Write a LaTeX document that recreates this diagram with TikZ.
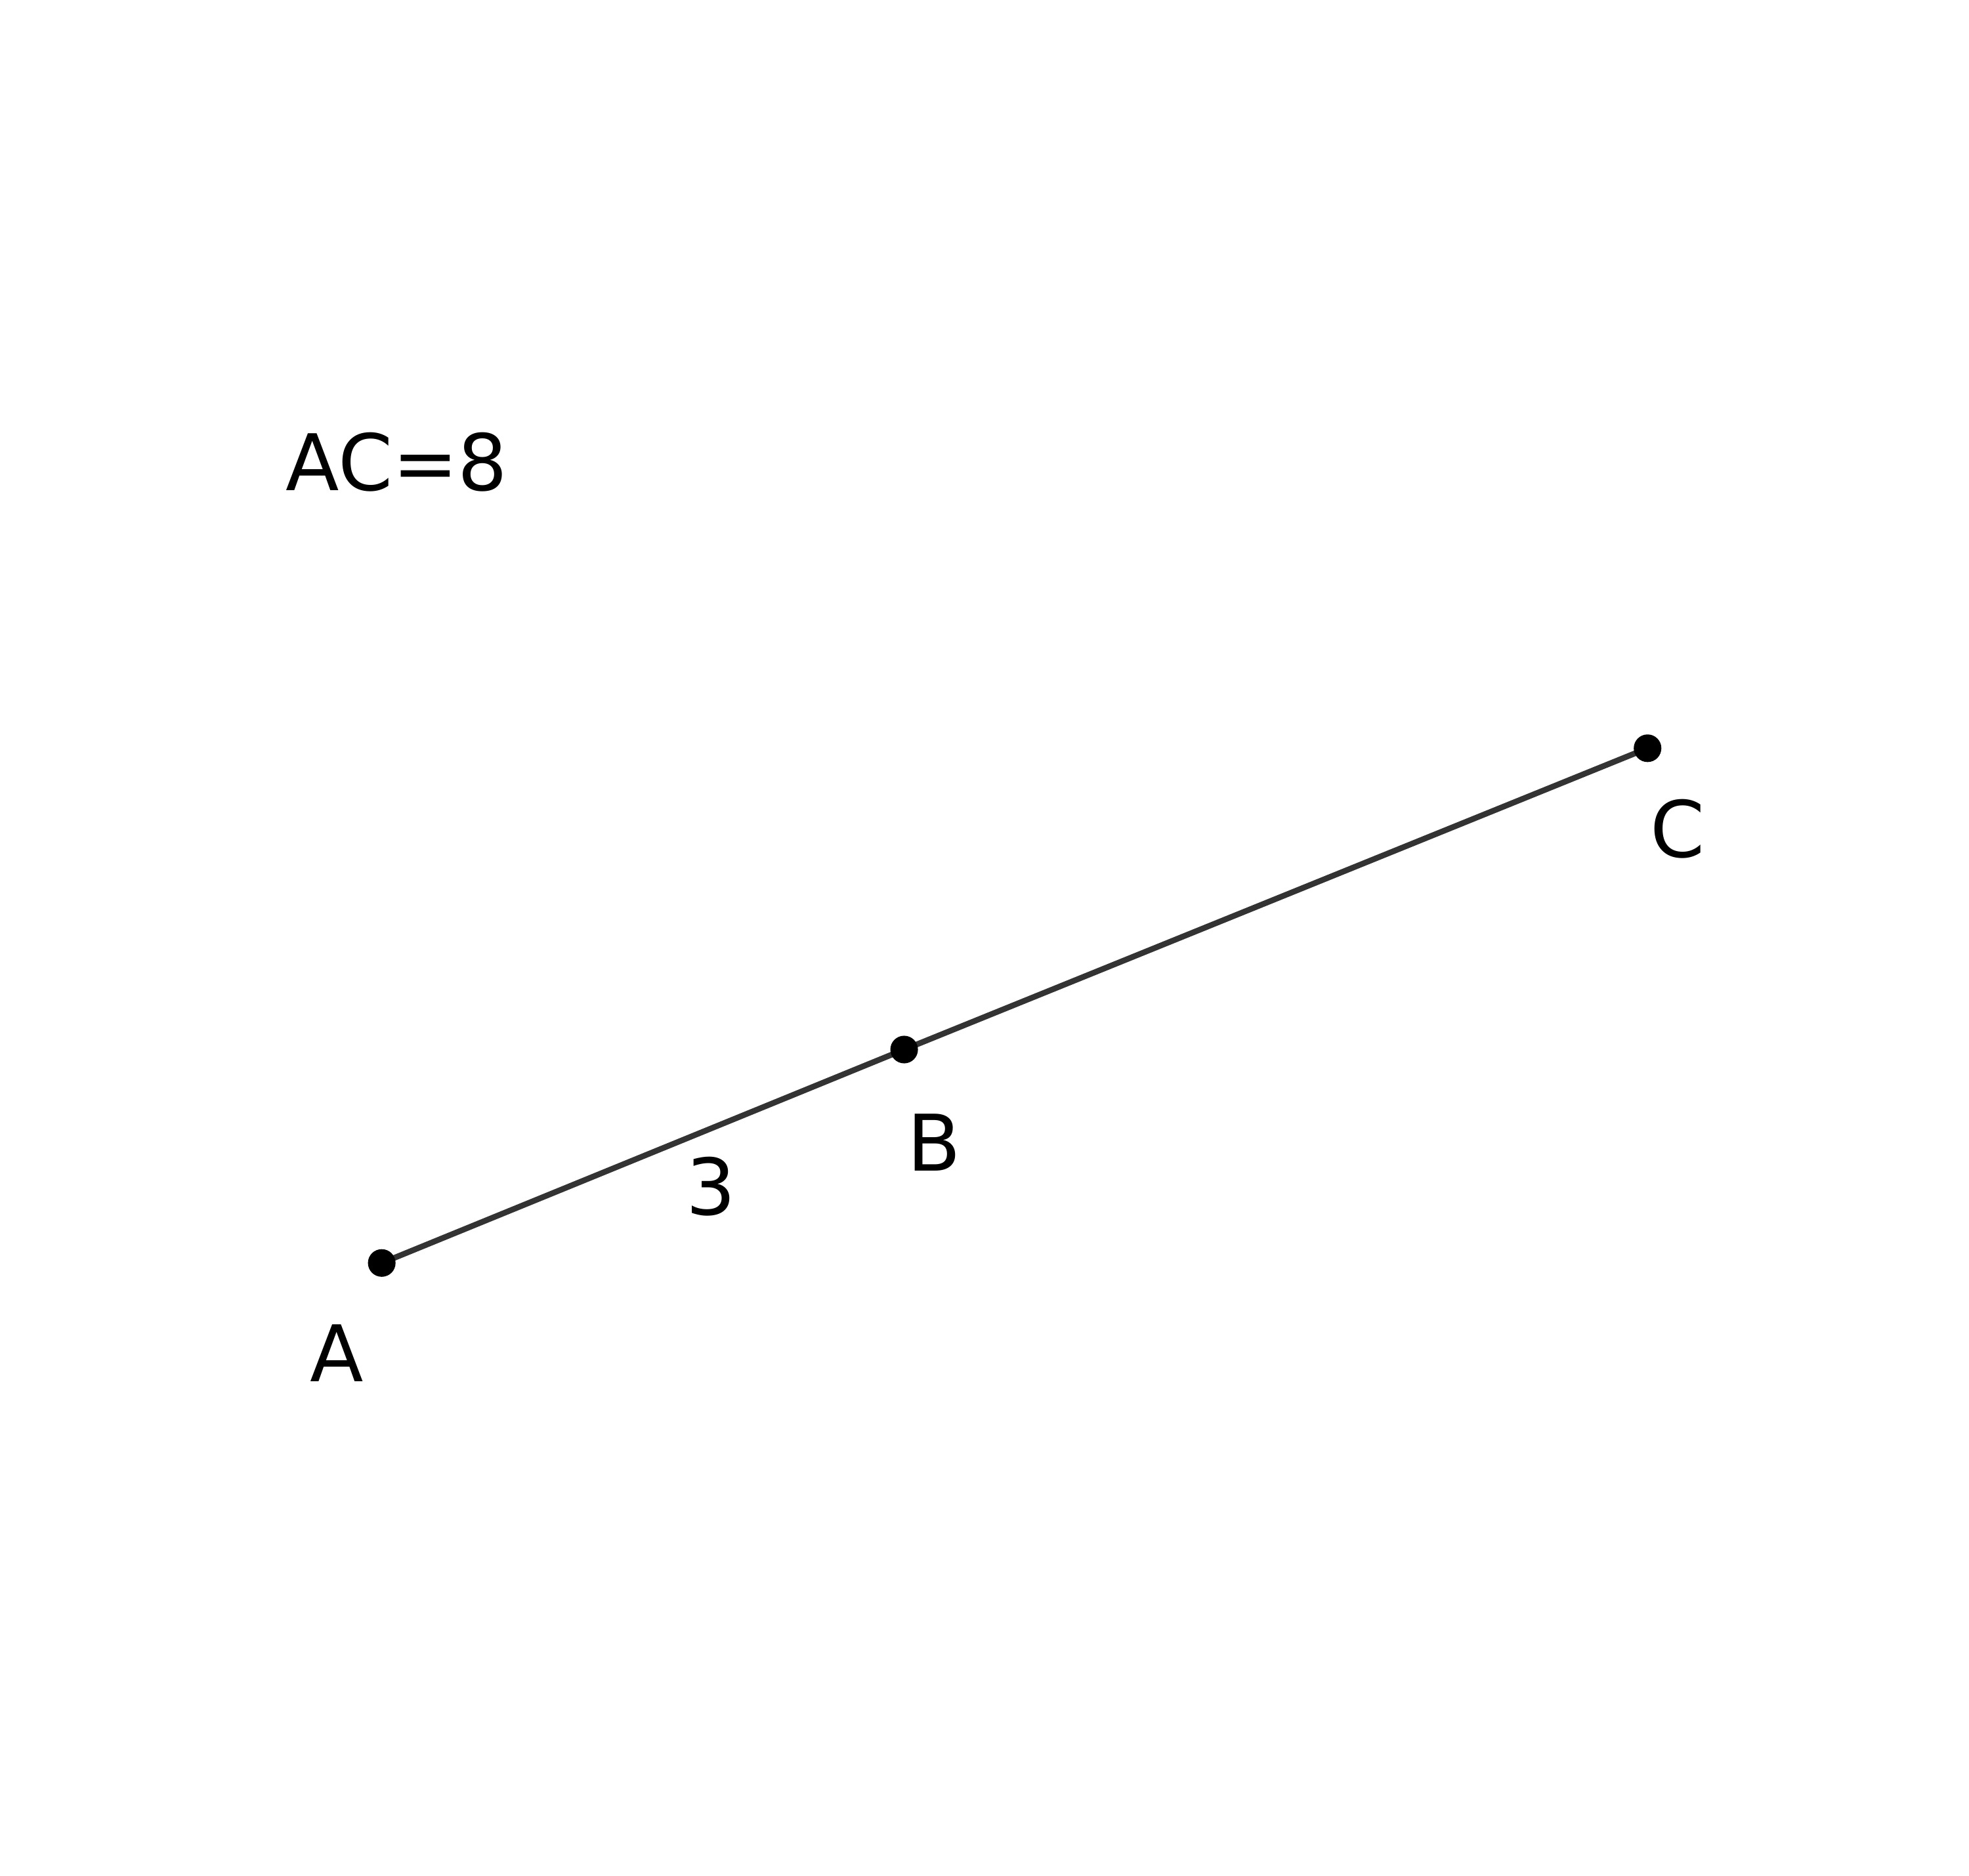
\documentclass[tikz,border=0pt]{standalone}
\usepackage{fontspec}
\setmainfont{DejaVu Sans}
\usepackage{xcolor}
\usetikzlibrary{positioning, backgrounds}
\definecolor{segcol}{HTML}{333333}
\tikzstyle{seg}  = [draw=segcol, line width=1.3pt]
\tikzstyle{dot}  = [circle, fill=black, inner sep=0pt, minimum size=0.22cm]
\tikzstyle{lbl}  = [font=\fontsize{17.7}{21}\selectfont, inner sep=0pt]

\begin{document}
\begin{tikzpicture}
  \useasboundingbox (0,0) rectangle (15.68,14.94);

  % points
  \node[dot] (A) at (3.04,4.88) {};
  \node[dot] (B) at (7.20,6.58) {};
  \node[dot] (C) at (13.12,8.98) {};

  \begin{scope}[on background layer]
    \draw[seg] (A.center) -- (B.center) -- (C.center);
  \end{scope}

  % labels
  \node[lbl] (labA) at (2.68,4.16) {A};
  \node[lbl] (labB) at (7.44,5.84) {B};
  \node[lbl] (labC) at (13.36,8.34) {C};
  \node[lbl] (len)  at (5.66,5.49) {3};
  \node[lbl] (given) at (3.16,11.26) {AC=8};
\end{tikzpicture}
\end{document}
